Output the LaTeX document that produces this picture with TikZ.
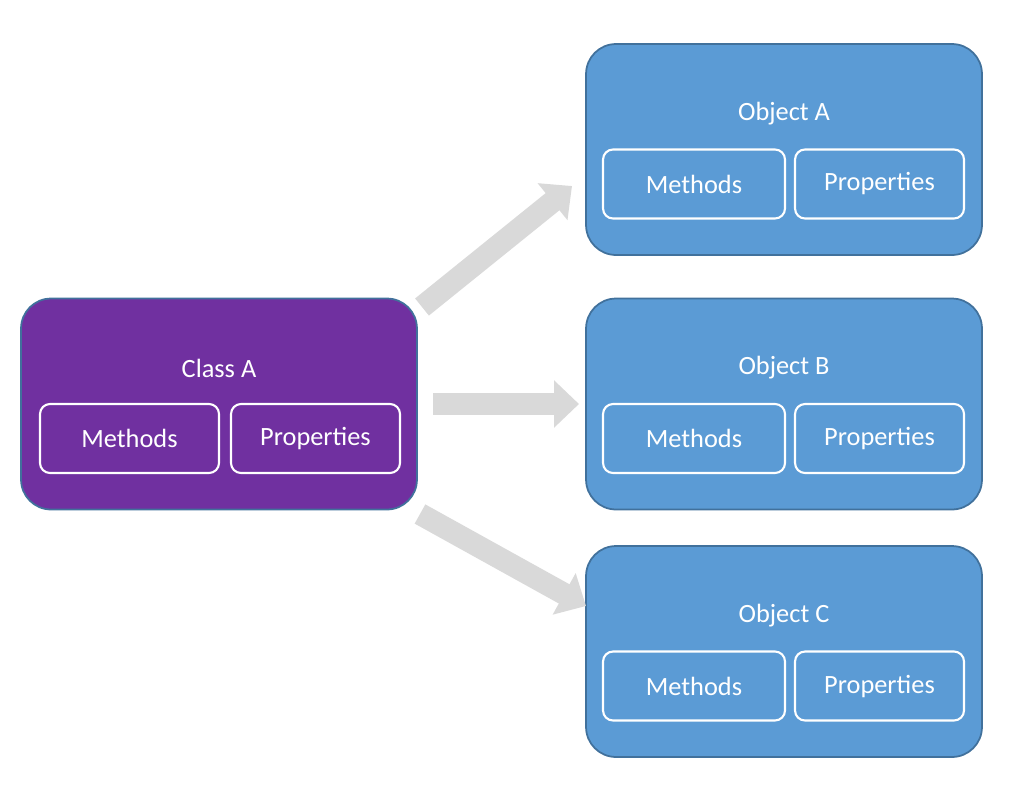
\documentclass[tikz,border=0pt]{standalone}
\usepackage{fontspec}
\setmainfont{Carlito}
\usetikzlibrary{arrows.meta,positioning}
\definecolor{classpurple}{RGB}{112,48,160}
\definecolor{objblue}{RGB}{91,155,213}
\definecolor{edgeblue}{RGB}{65,113,156}
\definecolor{arrowgray}{RGB}{217,217,217}
\tikzset{
  bigbox/.style={draw=edgeblue, line width=1pt, rounded corners=0.6cm,
    minimum width=7.92cm, minimum height=4.22cm},
  partbox/.style={draw=white, line width=1.2pt, rounded corners=0.2cm,
    minimum height=1.38cm, text=white, font=\fontsize{15}{18}\selectfont},
  titletext/.style={text=white, font=\fontsize{15}{18}\selectfont},
  fatarrow/.style={draw=arrowgray, line width=0.44cm,
    -{Triangle[length=0.5cm 0,width=0.92cm 0]}}
}
\begin{document}
\begin{tikzpicture}[x=0.02cm,y=-0.02cm]
    \useasboundingbox (0,0) rectangle (1024,785);

    % Class box
    \node[bigbox, fill=classpurple] (classA) at (219,404) {};
    \node[titletext] (classAtitle) at (219,368) {Class A};
    \node[partbox, minimum width=3.58cm] (classAmeth) at (129.5,438.5) {Methods};
    \node[partbox, minimum width=3.38cm] (classAprop) at (315.5,438.5) {Properties};

    % Object boxes
    \foreach \name/\cy in {A/149.5, B/404, C/651.5} {
        \node[bigbox, fill=objblue] (obj\name) at (784,\cy) {};
        \node[titletext] (obj\name title) at (784,\cy-36) {Object \name};
        \node[partbox, minimum width=3.64cm] (obj\name meth) at (694,\cy+34.5) {Methods};
        \node[partbox, minimum width=3.38cm] (obj\name prop) at (879.5,\cy+34.5) {Properties};
    }

    % Arrows
    \coordinate (startA) at (422,307);
    \coordinate (endA) at (572,186);
    \coordinate (startB) at (433,404);
    \coordinate (endB) at (579,404);
    \coordinate (startC) at (420,514);
    \coordinate (endC) at (586,606);
    \draw[fatarrow] (startA) -- (endA);
    \draw[fatarrow] (startB) -- (endB);
    \draw[fatarrow] (startC) -- (endC);
\end{tikzpicture}
\end{document}
